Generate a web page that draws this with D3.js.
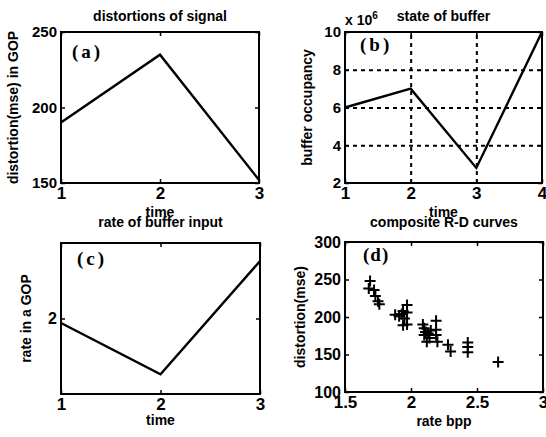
<!DOCTYPE html>
<html>
<head>
<meta charset="utf-8">
<script src="https://cdn.jsdelivr.net/npm/d3@7"></script>
<style>
  body { margin: 0; background: #fff; }
  svg { display: block; font-family: "Liberation Sans", Arial, sans-serif; font-weight: bold; }
  .axis .domain { display: none; }
  .axis .tick line { stroke: #000; stroke-width: 1.5; }
  .axis text { fill: #000; }
  .grid .tick line { stroke: #000; stroke-width: 2; stroke-dasharray: 4, 4; }
  .grid .domain { display: none; }
  .box { fill: none; stroke: #000; stroke-width: 2; }
  .series { fill: none; stroke: #000; stroke-width: 2.4; }
  .cross { fill: none; stroke: #000; stroke-width: 2; }
  .title, .xlabel, .ylabel { font-size: 14px; text-anchor: middle; fill: #000; }
  .tag { font-family: "Liberation Serif", "Times New Roman", serif; font-size: 19px; font-weight: bold; }
</style>
</head>
<body>
<svg id="chart" width="546" height="437"></svg>
<script>
// (a) distortions of signal
var timeA = [1, 2, 3];
var distortionA = [190, 235, 152];
var ticksAX = [1, 2, 3];
var ticksAY = [150, 200, 250];

// (b) state of buffer, values x 10^6
var timeB = [1, 2, 3, 4];
var occupancyB = [6.0, 7.0, 2.8, 10.0];
var ticksBX = [1, 2, 3, 4];
var ticksBY = [2, 4, 6, 8, 10];

// (c) rate of buffer input
var timeC = [1, 2, 3];
var rateC = [1.97, 1.63, 2.38];
var ticksCX = [1, 2, 3];
var ticksCY = [2];

// (d) composite R-D curves (scatter of + marks)
var rdRate = [1.69, 1.68, 1.72, 1.73, 1.75, 1.76,
  1.88, 1.91, 1.93, 1.95, 1.94, 1.97, 1.97, 1.94, 1.97,
  2.09, 2.10, 2.11, 2.10, 2.13, 2.14, 2.12, 2.19, 2.19, 2.19, 2.20, 2.15,
  2.28, 2.30, 2.43, 2.43, 2.43, 2.66];
var rdDistortion = [248, 238, 236, 228, 221, 217,
  203, 201, 204, 198, 208, 216, 206, 189, 190,
  190, 185, 180, 176, 178, 172, 167, 195, 183, 176, 167, 182,
  163, 154, 166, 160, 153, 140];
var ticksDX = [1.5, 2, 2.5, 3];
var ticksDY = [100, 150, 200, 250, 300];

var svg = d3.select("#chart");
var fmt = d => String(d);
var makeTranslate = (x, y) => `translate(${x},${y})`;

// Draw a matlab style axes box with inward ticks on all four sides
function drawAxes(box, xDomain, yDomain, xTicks, yTicks, opts) {
  var xScale = d3.scaleLinear().domain(xDomain).range([box.left, box.right]);
  var yScale = d3.scaleLinear().domain(yDomain).range([box.bottom, box.top]);
  var g = svg.append("g");

  if (opts.grid) {
    g.append("g")
      .attr("class", "grid")
      .attr("transform", makeTranslate(0, box.bottom))
      .call(d3.axisBottom(xScale).tickValues(opts.grid.x)
        .tickSize(-(box.bottom - box.top)).tickFormat(""));
    g.append("g")
      .attr("class", "grid")
      .attr("transform", makeTranslate(box.left, 0))
      .call(d3.axisLeft(yScale).tickValues(opts.grid.y)
        .tickSize(-(box.right - box.left)).tickFormat(""));
  }

  var bottom = g.append("g")
    .attr("class", "axis x")
    .attr("transform", makeTranslate(0, box.bottom))
    .call(d3.axisBottom(xScale).tickValues(xTicks).tickSizeInner(-4)
      .tickSizeOuter(0).tickPadding(4).tickFormat(fmt));
  bottom.attr("font-size", null).attr("font-family", null);
  bottom.selectAll("text").style("font-size", opts.xFont + "px");

  var left = g.append("g")
    .attr("class", "axis y")
    .attr("transform", makeTranslate(box.left, 0))
    .call(d3.axisLeft(yScale).tickValues(yTicks).tickSizeInner(-4)
      .tickSizeOuter(0).tickPadding(4).tickFormat(fmt));
  left.attr("font-size", null).attr("font-family", null);
  left.selectAll("text").style("font-size", opts.yFont + "px");

  g.append("g")
    .attr("class", "axis")
    .attr("transform", makeTranslate(0, box.top))
    .call(d3.axisTop(xScale).tickValues(xTicks).tickSizeInner(-4)
      .tickSizeOuter(0).tickFormat(""));
  g.append("g")
    .attr("class", "axis")
    .attr("transform", makeTranslate(box.right, 0))
    .call(d3.axisRight(yScale).tickValues(yTicks).tickSizeInner(-4)
      .tickSizeOuter(0).tickFormat(""));

  g.append("rect")
    .attr("class", "box")
    .attr("x", box.left)
    .attr("y", box.top)
    .attr("width", box.right - box.left)
    .attr("height", box.bottom - box.top);

  var cx = (box.left + box.right) / 2;
  g.append("text").attr("class", "title")
    .attr("x", cx).attr("y", opts.titleY).text(opts.title);
  g.append("text").attr("class", "xlabel")
    .attr("x", cx).attr("y", opts.xLabelY).text(opts.xLabel);
  g.append("text").attr("class", "ylabel")
    .attr("transform", makeTranslate(opts.yLabelX, (box.top + box.bottom) / 2) + " rotate(-90)")
    .text(opts.yLabel);
  g.append("text").attr("class", "tag")
    .attr("x", opts.tag.x).attr("y", opts.tag.y)
    .style("letter-spacing", opts.tag.spacing + "px")
    .text(opts.tag.text);

  return { g: g, x: xScale, y: yScale };
}

function drawLine(p, xs, ys) {
  var line = d3.line()
    .x(d => p.x(d[0]))
    .y(d => p.y(d[1]));
  p.g.append("path")
    .attr("class", "series")
    .attr("d", line(xs.map((v, i) => [v, ys[i]])));
}

// (a)
var pa = drawAxes({ left: 61, right: 259, top: 32, bottom: 183 }, [1, 3], [150, 250],
  ticksAX, ticksAY, {
    xFont: 17, yFont: 15, title: "distortions of signal", titleY: 21,
    xLabel: "time", xLabelY: 217, yLabel: "distortion(mse) in GOP", yLabelX: 18,
    tag: { text: "(a)", x: 72, y: 58, spacing: 3 }
  });
drawLine(pa, timeA, distortionA);

// (b)
var pb = drawAxes({ left: 345, right: 542, top: 32, bottom: 183 }, [1, 4], [2, 10],
  ticksBX, ticksBY, {
    xFont: 17, yFont: 15, title: "state of buffer", titleY: 21,
    xLabel: "time", xLabelY: 217, yLabel: "buffer occupancy", yLabelX: 312,
    tag: { text: "(b)", x: 360, y: 51, spacing: 3 },
    grid: { x: [2, 3], y: [4, 6, 8] }
  });
drawLine(pb, timeB, occupancyB);
var expo = pb.g.append("text")
  .attr("x", 345).attr("y", 25)
  .style("font-size", "14px");
expo.append("tspan").text("x 10");
expo.append("tspan").attr("dy", -6).style("font-size", "10px").text("6");

// (c)
var pc = drawAxes({ left: 61, right: 260, top: 243, bottom: 394 }, [1, 3], [1.5, 2.5],
  ticksCX, ticksCY, {
    xFont: 17, yFont: 16, title: "rate of buffer input", titleY: 227,
    xLabel: "time", xLabelY: 425, yLabel: "rate in a GOP", yLabelX: 31,
    tag: { text: "(c)", x: 77, y: 265, spacing: 3 }
  });
drawLine(pc, timeC, rateC);

// (d)
var pd = drawAxes({ left: 345, right: 543, top: 242, bottom: 392 }, [1.5, 3], [100, 300],
  ticksDX, ticksDY, {
    xFont: 17, yFont: 16, title: "composite R-D curves", titleY: 227,
    xLabel: "rate bpp", xLabelY: 426, yLabel: "distortion(mse)", yLabelX: 305,
    tag: { text: "(d)", x: 363, y: 261, spacing: 1 }
  });
pd.g.append("g")
  .selectAll("path")
  .data(rdRate.map((v, i) => [v, rdDistortion[i]]))
  .enter()
  .append("path")
  .attr("class", "cross")
  .attr("transform", d => makeTranslate(pd.x(d[0]), pd.y(d[1])))
  .attr("d", "M-5.5,0H5.5M0,-5.5V5.5");
</script>
</body>
</html>
